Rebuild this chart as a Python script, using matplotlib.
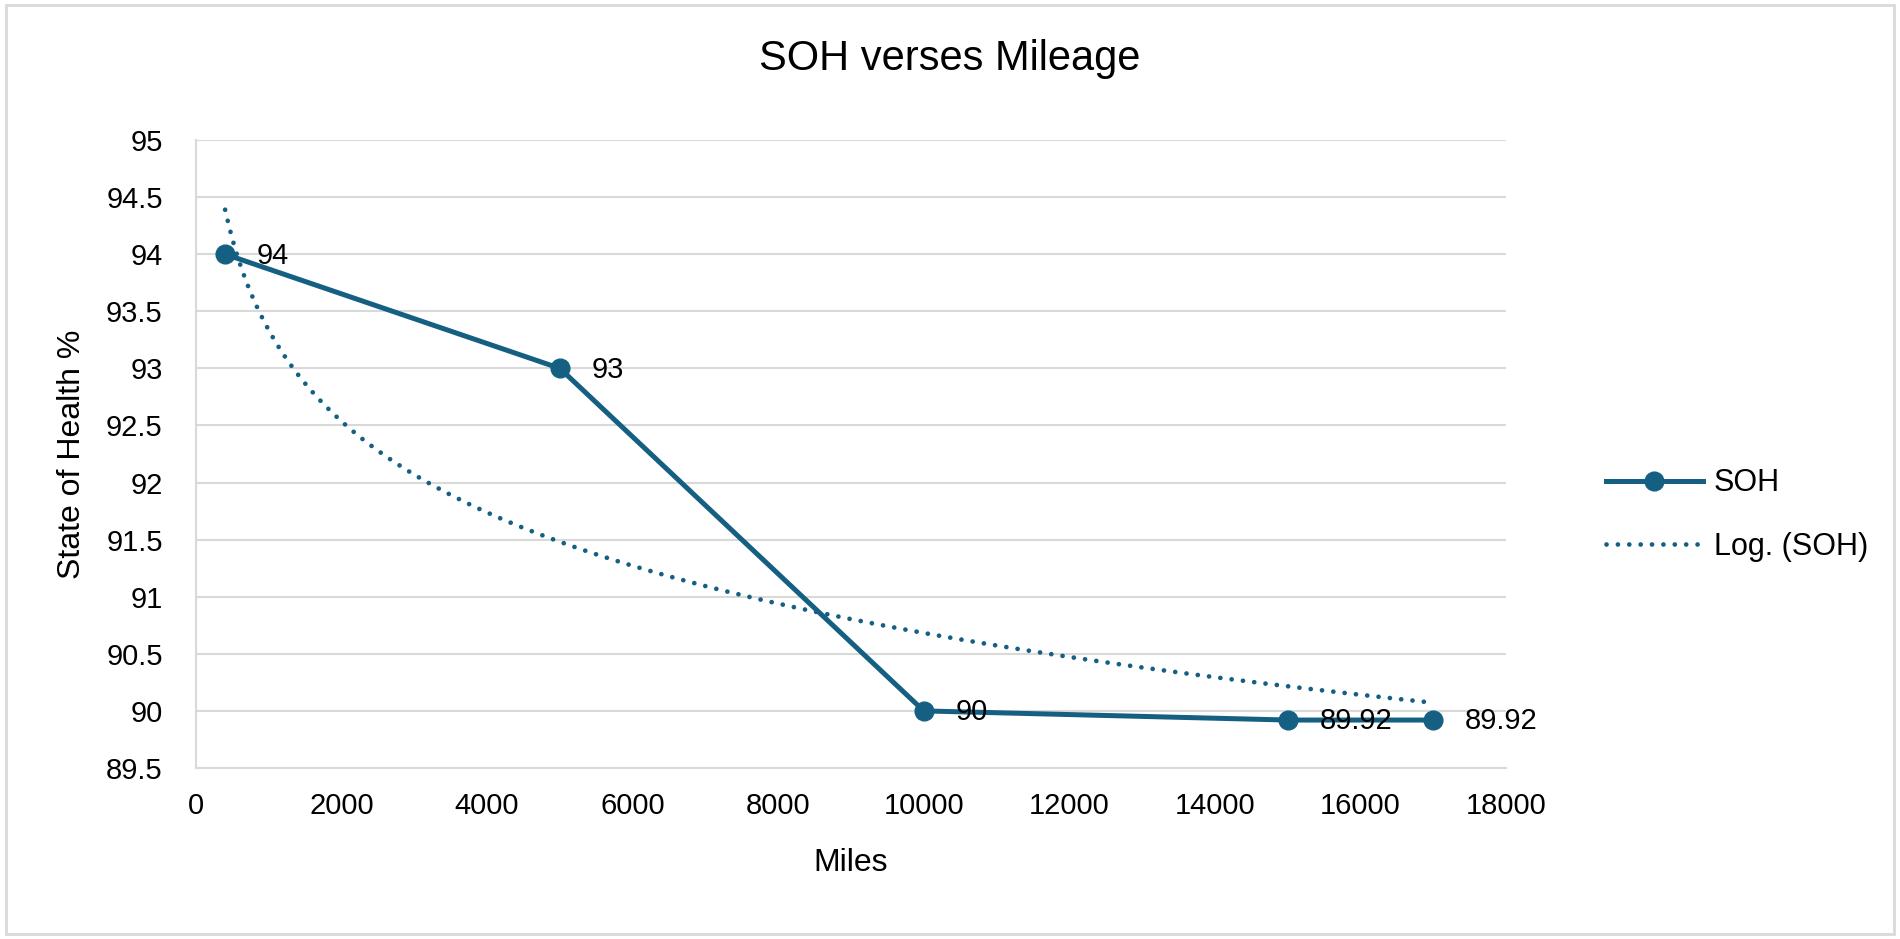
import matplotlib.pyplot as plt
import numpy as np

plt.rcParams['font.family'] = ['Liberation Sans', 'DejaVu Sans']

miles = [400, 5000, 10000, 15000, 17000]
soh = [94, 93, 90, 89.92, 89.92]
labels = ['94', '93', '90', '89.92', '89.92']

col = '#156082'
grid_col = '#d9d9d9'

# logarithmic trendline fitted to the data, like Excel's Log. trendline
a, b = np.polyfit(np.log(miles), soh, 1)
xt = np.linspace(miles[0], miles[-1], 300)
yt = a * np.log(xt) + b

fig = plt.figure(figsize=(19, 9.39), dpi=100)
ax = fig.add_axes([196/1900, 1 - 768/939, (1506-196)/1900, (768-140)/939])

ax.plot(miles, soh, color=col, lw=3.6, marker='o', markersize=13.5, label='SOH', zorder=3)
ax.plot(xt, yt, color=col, lw=3.4, linestyle=(0, (0.01, 2.4)), dash_capstyle='round',
        label='Log. (SOH)', zorder=2)

for x, y, t in zip(miles, soh, labels):
    ax.annotate(t, (x, y), xytext=(23, -1), textcoords='offset points',
                ha='left', va='center', fontsize=21)

ax.set_xlim(0, 18000)
ax.set_ylim(89.5, 95)
ax.set_xticks(range(0, 18001, 2000))
yt_vals = np.arange(89.5, 95.01, 0.5)
ax.set_yticks(yt_vals)
ax.set_yticklabels(['%g' % v for v in yt_vals])
ax.tick_params(labelsize=21, length=0)
ax.tick_params(axis='x', pad=17)
ax.tick_params(axis='y', pad=24)
ax.grid(axis='y', color=grid_col, lw=1.5)
ax.set_axisbelow(True)
for s in ['top', 'right']:
    ax.spines[s].set_visible(False)
for s in ['left', 'bottom']:
    ax.spines[s].set_color(grid_col)
    ax.spines[s].set_linewidth(1.5)

ax.set_xlabel('Miles', fontsize=23, va='center')
ax.xaxis.set_label_coords(0.5, -(863-768)/628)
ax.set_ylabel('State of Health %', fontsize=23, va='center')
ax.yaxis.set_label_coords((72-196)/1310, 0.5)
fig.text(0.5, 1 - 59/939, 'SOH verses Mileage', ha='center', va='center', fontsize=30)

fig.legend(loc='center left', bbox_to_anchor=(1606/1900, 1 - 515/939), frameon=False,
           fontsize=22, handlelength=3.17, handletextpad=0.35, labelspacing=1.1,
           borderpad=0, borderaxespad=0)

# outer chart border
fig.patches.append(plt.Rectangle((0.003, 0.005), 0.994, 0.99, transform=fig.transFigure,
                                 fill=False, edgecolor='#d9d9d9', lw=2))

fig.savefig('out.png', dpi=100)
